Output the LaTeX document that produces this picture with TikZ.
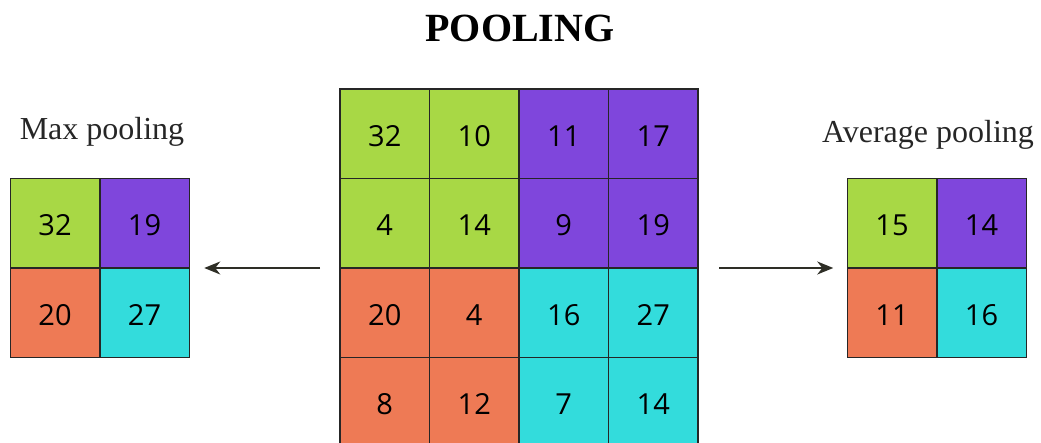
\documentclass[tikz,border=0pt]{standalone}
\usepackage{fontspec}
\setmainfont{Liberation Serif}
\newfontfamily\digitfont{Open Sans}
\usetikzlibrary{arrows.meta}
\definecolor{cgreen}{HTML}{A8D845}
\definecolor{cpurple}{HTML}{7F46DC}
\definecolor{corange}{HTML}{EE7A55}
\definecolor{ccyan}{HTML}{33DCDC}
\definecolor{arrowcol}{HTML}{2E2E26}
\begin{document}
\begin{tikzpicture}[x=1pt,y=-1pt,
  cell/.style={draw=black!85, line width=1.5pt, minimum width=89.5pt, minimum height=89.5pt,
    inner sep=0pt, outer sep=0pt, text height=25pt, text depth=0pt,
    font=\digitfont\fontsize{29}{34}\selectfont},
  g/.style={cell, fill=cgreen},
  p/.style={cell, fill=cpurple},
  o/.style={cell, fill=corange},
  c/.style={cell, fill=ccyan},
  label/.style={font=\fontsize{32}{38}\selectfont, text=black!85, anchor=base, inner sep=0pt},
  arr/.style={draw=arrowcol, line width=1.7pt, -{Stealth[length=16pt,width=13pt,inset=5pt]}}]
\useasboundingbox (0,0) rectangle (1041,443);
\clip (0,0) rectangle (1041,443);
% title
\node[font=\bfseries\fontsize{40}{48}\selectfont, anchor=base, inner sep=0pt] (title) at (520,42) {POOLING};
% central grid
\node[g] (m11) at (384.75,133.75) {32};
\node[g] (m12) at (474.25,133.75) {10};
\node[p] (m13) at (563.75,133.75) {11};
\node[p] (m14) at (653.25,133.75) {17};
\node[g] (m21) at (384.75,223.25) {4};
\node[g] (m22) at (474.25,223.25) {14};
\node[p] (m23) at (563.75,223.25) {9};
\node[p] (m24) at (653.25,223.25) {19};
\node[o] (m31) at (384.75,312.75) {20};
\node[o] (m32) at (474.25,312.75) {4};
\node[c] (m33) at (563.75,312.75) {16};
\node[c] (m34) at (653.25,312.75) {27};
\node[o] (m41) at (384.75,402.25) {8};
\node[o] (m42) at (474.25,402.25) {12};
\node[c] (m43) at (563.75,402.25) {7};
\node[c] (m44) at (653.25,402.25) {14};
% max pooling
\node[label] (maxlab) at (102,140) {Max pooling};
\node[g] (x11) at (55,223.25) {32};
\node[p] (x12) at (144.5,223.25) {19};
\node[o] (x21) at (55,312.75) {20};
\node[c] (x22) at (144.5,312.75) {27};
% average pooling
\node[label] (avglab) at (928,143) {Average pooling};
\node[g] (a11) at (892,223.25) {15};
\node[p] (a12) at (981.5,223.25) {14};
\node[o] (a21) at (892,312.75) {11};
\node[c] (a22) at (981.5,312.75) {16};
% arrows
\draw[arr] ([xshift=-20pt]m21.south west) -- ([xshift=15pt]x12.south east);
\draw[arr] ([xshift=21pt]m24.south east) -- ([xshift=-14pt]a11.south west);
\end{tikzpicture}
\end{document}
